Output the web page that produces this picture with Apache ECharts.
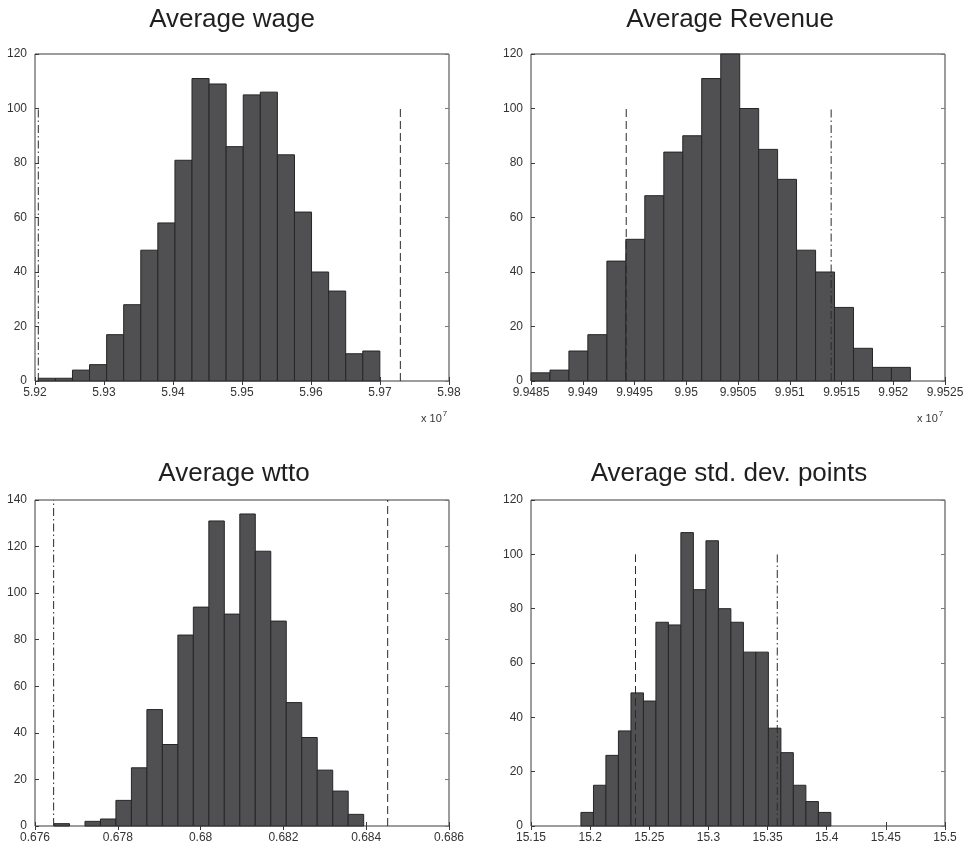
<!DOCTYPE html>
<html>
<head>
<meta charset="utf-8">
<script src="https://cdn.jsdelivr.net/npm/echarts@6/dist/echarts.min.js"></script>
<style>
html,body{margin:0;padding:0;background:#fff;}
#chart{width:971px;height:849px;}
</style>
</head>
<body>
<div id="chart"></div>
<script>
// ---- Data ----
const titles = ['Average wage', 'Average Revenue', 'Average wtto', 'Average std. dev. points'];

// Average wage (x 10^7)
const wageCenters = [5.92172, 5.92419, 5.92667, 5.92914, 5.93162, 5.93409, 5.93657, 5.93904, 5.94152, 5.94399,
                     5.94647, 5.94894, 5.95142, 5.95389, 5.95637, 5.95884, 5.96132, 5.96379, 5.96627, 5.96874];
const wageCounts  = [1, 1, 4, 6, 17, 28, 48, 58, 81, 111, 109, 86, 105, 106, 83, 62, 40, 33, 10, 11];
const wageBinWidth = 0.002475;
const wageLines = [5.92048, 5.97295]; // dash-dot, dashed

// Average Revenue (x 10^7)
const revenueCenters = [9.948592, 9.948775, 9.948958, 9.949141, 9.949325, 9.949508, 9.949691, 9.949875, 9.950058, 9.950241,
                        9.950425, 9.950608, 9.950791, 9.950974, 9.951158, 9.951341, 9.951524, 9.951708, 9.951891, 9.952074];
const revenueCounts  = [3, 4, 11, 17, 44, 52, 68, 84, 90, 111, 120, 100, 85, 74, 48, 40, 27, 12, 5, 5];
const revenueBinWidth = 0.00018328;
const revenueLines = [9.94942, 9.95140]; // dashed, dash-dot

// Average wtto
const wttoCenters = [0.676646, 0.677020, 0.677394, 0.677768, 0.678142, 0.678516, 0.678890, 0.679264, 0.679638, 0.680012,
                     0.680386, 0.680760, 0.681134, 0.681508, 0.681882, 0.682256, 0.682630, 0.683004, 0.683378, 0.683752];
const wttoCounts  = [1, 0, 2, 3, 11, 25, 50, 35, 82, 94, 131, 91, 134, 118, 88, 53, 38, 24, 15, 5];
const wttoBinWidth = 0.000374;
const wttoLines = [0.67645, 0.684519]; // dash-dot, dashed

// Average std. dev. points
const sdCenters = [15.1975, 15.2081, 15.2186, 15.2292, 15.2398, 15.2503, 15.2609, 15.2715, 15.2820, 15.2926,
                   15.3032, 15.3137, 15.3243, 15.3349, 15.3454, 15.3560, 15.3665, 15.3771, 15.3877, 15.3982];
const sdCounts  = [5, 15, 26, 35, 49, 46, 75, 74, 108, 87, 105, 80, 75, 64, 64, 36, 27, 15, 9, 5];
const sdBinWidth = 0.010565;
const sdLines = [15.23834, 15.35820]; // dashed, dash-dot

// Axis settings
const xMins = [5.92, 9.9485, 0.676, 15.15];
const xMaxs = [5.98, 9.9525, 0.686, 15.5];
const xIntervals = [0.01, 0.0005, 0.002, 0.05];
const yMaxs = [120, 120, 140, 120];
const lineTops = [100, 100, 140, 100];

// ---- Build chart ----
const FONT = '"Liberation Sans", Arial, Helvetica, sans-serif';
const panels = [
  {c: wageCenters, v: wageCounts, w: wageBinWidth, lines: wageLines, styles: ['dashdot', 'dashed']},
  {c: revenueCenters, v: revenueCounts, w: revenueBinWidth, lines: revenueLines, styles: ['dashed', 'dashdot']},
  {c: wttoCenters, v: wttoCounts, w: wttoBinWidth, lines: wttoLines, styles: ['dashdot', 'dashed']},
  {c: sdCenters, v: sdCounts, w: sdBinWidth, lines: sdLines, styles: ['dashed', 'dashdot']}
];
const gridPos = [
  {left: 35, top: 54, width: 414, height: 327},
  {left: 531, top: 54, width: 414, height: 327},
  {left: 35, top: 500, width: 414, height: 326},
  {left: 531, top: 500, width: 414, height: 326}
];
const titlePos = [[232, 20], [730, 20], [234, 474], [729, 474]];
const dashTypes = {dashed: [8, 4], dashdot: [8, 3, 1.5, 3]};

const grids = [], xAxes = [], yAxes = [], series = [], graphics = [];
panels.forEach((p, i) => {
  grids.push(Object.assign({show: true, borderColor: '#3a3a3a', borderWidth: 1, backgroundColor: '#fff'}, gridPos[i]));
  xAxes.push({
    type: 'value', gridIndex: i, min: xMins[i], max: xMaxs[i], interval: xIntervals[i],
    position: 'bottom',
    axisLine: {show: false},
    axisTick: {show: true, inside: true, length: 4, lineStyle: {color: '#3a3a3a'}},
    splitLine: {show: false},
    axisLabel: {show: true, color: '#333', fontFamily: FONT, fontSize: 12, margin: 6,
      showMinLabel: true, showMaxLabel: true, hideOverlap: false}
  });
  xAxes.push({
    type: 'value', gridIndex: i, min: xMins[i], max: xMaxs[i], interval: xIntervals[i],
    position: 'top',
    axisLine: {show: false},
    axisTick: {show: true, inside: true, length: 4, lineStyle: {color: '#3a3a3a'}},
    splitLine: {show: false},
    axisLabel: {show: false}
  });
  yAxes.push({
    type: 'value', gridIndex: i, min: 0, max: yMaxs[i], interval: 20,
    position: 'left',
    axisLine: {show: false},
    axisTick: {show: true, inside: true, length: 4, lineStyle: {color: '#3a3a3a'}},
    splitLine: {show: false},
    axisLabel: {show: true, color: '#333', fontFamily: FONT, fontSize: 12, margin: 8,
      showMinLabel: true, showMaxLabel: true}
  });
  yAxes.push({
    type: 'value', gridIndex: i, min: 0, max: yMaxs[i], interval: 20,
    position: 'right',
    axisLine: {show: false},
    axisTick: {show: true, inside: true, length: 4, lineStyle: {color: '#7a7a7a'}},
    splitLine: {show: false},
    axisLabel: {show: false}
  });
  series.push({type: 'line', xAxisIndex: 2 * i + 1, yAxisIndex: 2 * i + 1, data: [], silent: true});

  const w = p.w;
  series.push({
    type: 'custom',
    xAxisIndex: 2 * i, yAxisIndex: 2 * i,
    data: p.c.map((c, k) => [c, p.v[k]]),
    encode: {x: 0, y: 1},
    z: 2,
    silent: true,
    renderItem: function (params, api) {
      const c = api.value(0), v = api.value(1);
      if (!v) return null;
      const p0 = api.coord([c - w / 2, v]);
      const p1 = api.coord([c + w / 2, 0]);
      return {
        type: 'rect',
        shape: {x: p0[0], y: p0[1], width: p1[0] - p0[0], height: p1[1] - p0[1]},
        style: {fill: '#505052', stroke: '#262626', lineWidth: 1}
      };
    }
  });

  p.lines.forEach((x, k) => {
    series.push({
      type: 'line',
      xAxisIndex: 2 * i, yAxisIndex: 2 * i,
      data: [[x, 0], [x, lineTops[i]]],
      symbol: 'none', silent: true, z: 5,
      lineStyle: {color: '#2a2a2a', width: 1, type: dashTypes[p.styles[k]]}
    });
  });

  graphics.push({
    type: 'text', x: titlePos[i][0], y: titlePos[i][1],
    style: {text: titles[i], fill: '#1f1f1f', font: '26px ' + FONT, textAlign: 'center', textVerticalAlign: 'middle'}
  });
});

[[421, 419], [917, 419]].forEach(pos => {
  graphics.push({
    type: 'text', x: pos[0], y: pos[1],
    style: {
      rich: {b: {fontSize: 11, fontFamily: FONT, fill: '#333'}, s: {fontSize: 8, fontFamily: FONT, fill: '#333', verticalAlign: 'top', padding: [0, 0, 10, 1]}},
      text: '{b|x 10}{s|7}', fill: '#333', textVerticalAlign: 'middle'
    }
  });
});

const chart = echarts.init(document.getElementById('chart'), null, {renderer: 'canvas'});
chart.setOption({
  animation: false,
  backgroundColor: '#fff',
  grid: grids,
  xAxis: xAxes,
  yAxis: yAxes,
  series: series,
  graphic: graphics
});
</script>
</body>
</html>
